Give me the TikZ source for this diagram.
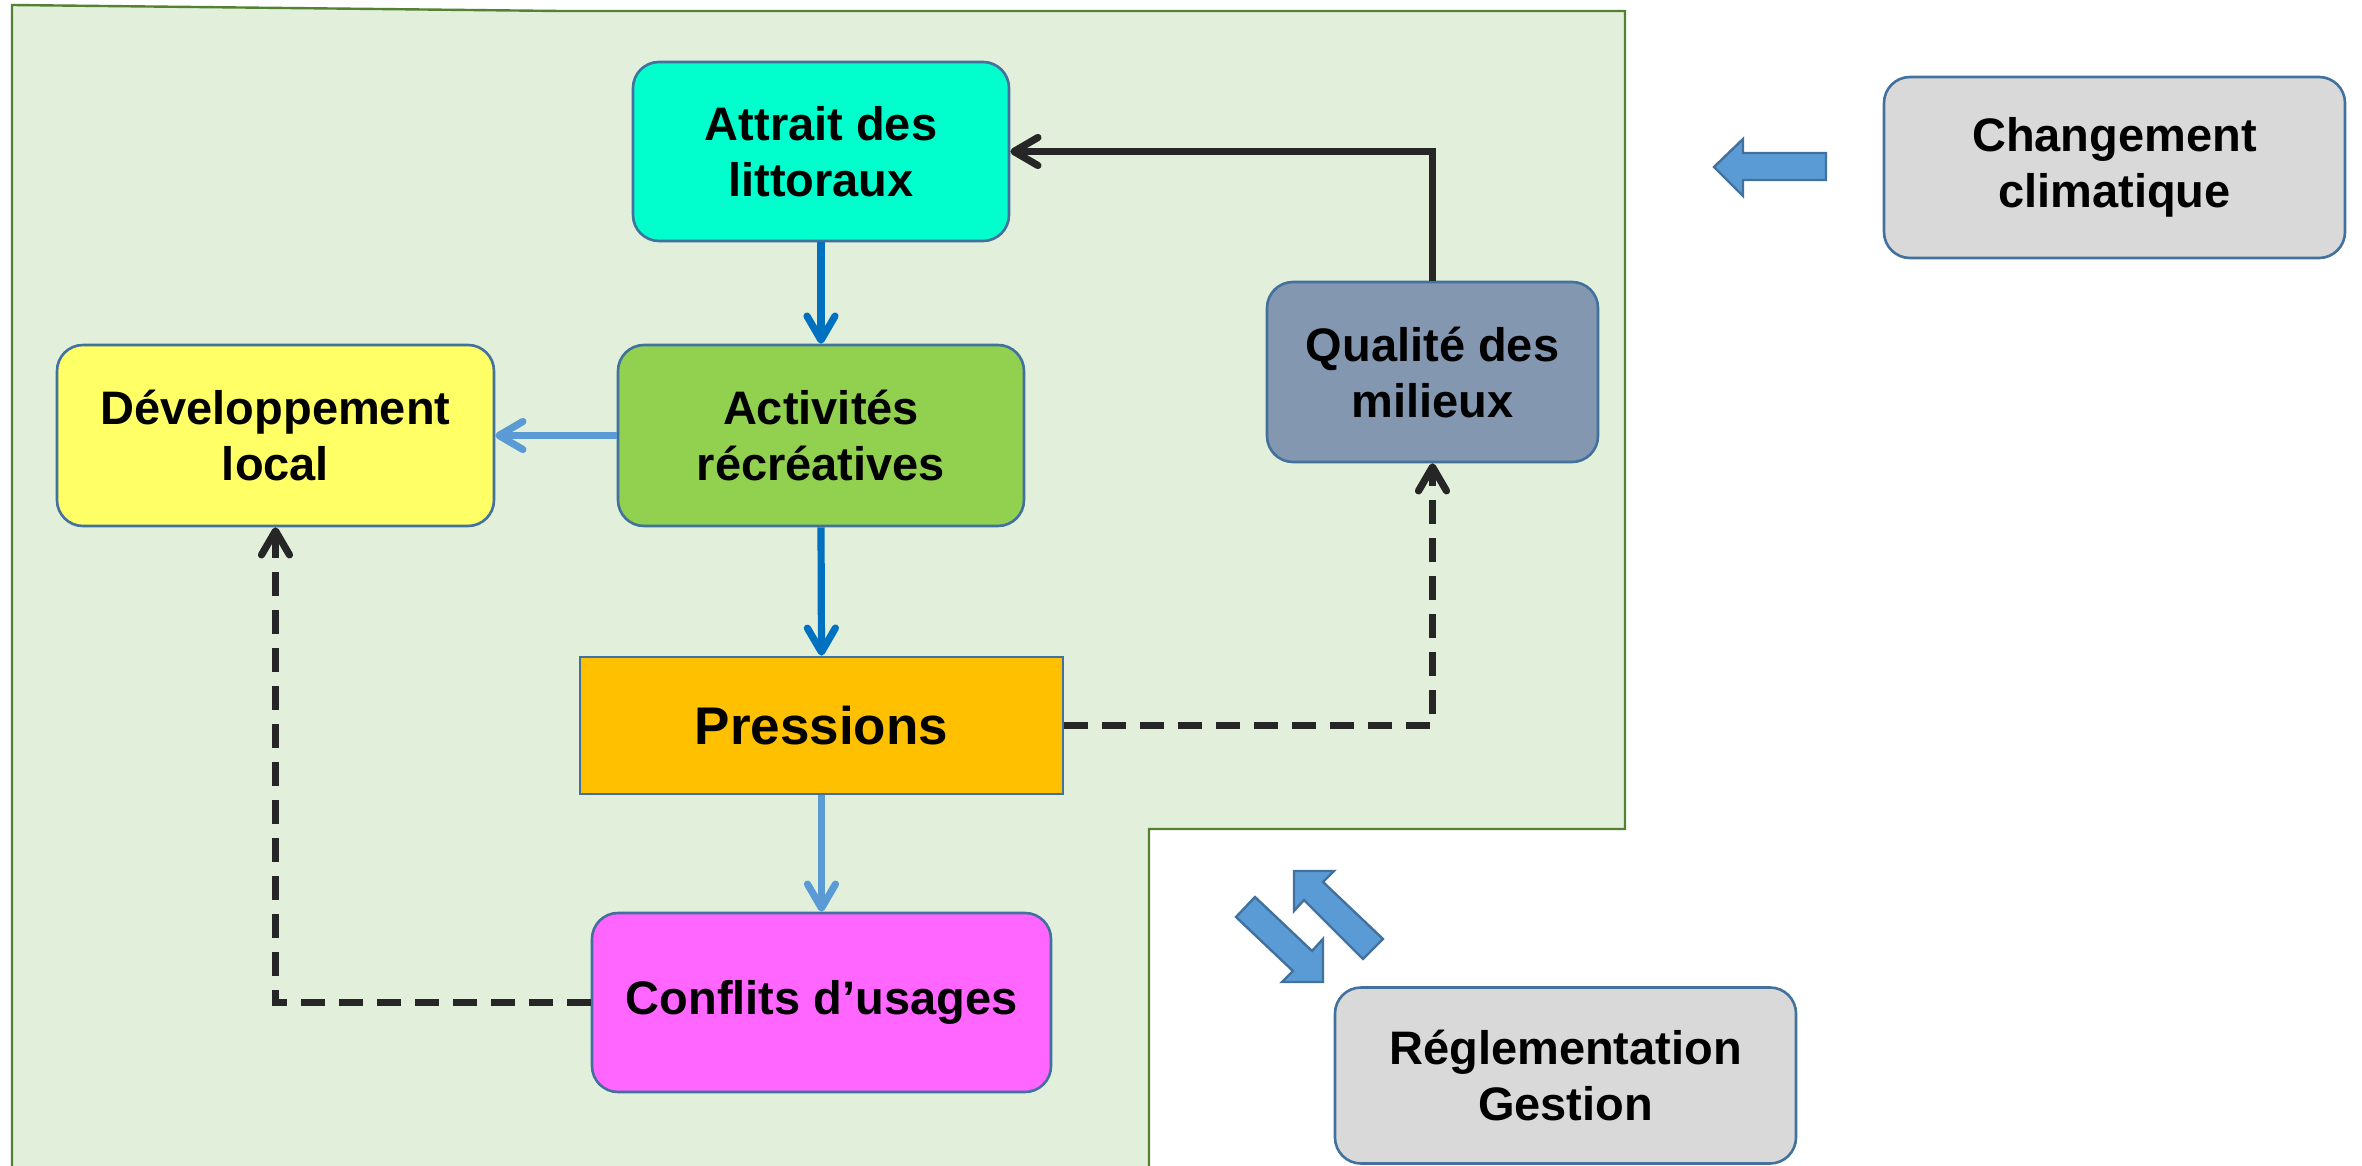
\documentclass[tikz,border=0pt]{standalone}
\usepackage{fontspec}
\setmainfont{Liberation Sans}
\usetikzlibrary{arrows.meta}
\definecolor{zoneFill}{HTML}{E2EFDA}
\definecolor{zoneLine}{HTML}{548235}
\definecolor{boxLine}{HTML}{41719C}
\definecolor{cAttrait}{HTML}{00FFCC}
\definecolor{cActiv}{HTML}{92D050}
\definecolor{cDev}{HTML}{FFFF66}
\definecolor{cQual}{HTML}{8497B0}
\definecolor{cPress}{HTML}{FFC000}
\definecolor{cConf}{HTML}{FF66FF}
\definecolor{cGris}{HTML}{D9D9D9}
\definecolor{darkBlue}{HTML}{0070C0}
\definecolor{lightBlue}{HTML}{5B9BD5}
\definecolor{darkLine}{HTML}{262626}
\tikzset{
  box/.style={draw=boxLine, line width=1.3pt, rounded corners=13pt, align=center,
    font=\bfseries\fontsize{23.5}{28}\selectfont, text=black, inner sep=0pt},
  flow/.style={line width=3.6pt, -{Straight Barb[round,length=12pt,width=14pt]}},
  dashflow/.style={flow, draw=darkLine, dash pattern=on 12pt off 7pt},
  blockarrow/.style={fill=lightBlue, draw=boxLine, line width=1.2pt, line join=miter}
}
\begin{document}
\begin{tikzpicture}[x=0.5pt,y=-0.5pt]
\useasboundingbox (0,0) rectangle (2362,1166);
% green zone
\draw[fill=zoneFill, draw=zoneLine, line width=1.2pt]
  (12,5) -- (560,11) -- (1625,11) -- (1625,829) -- (1149,829) -- (1149,1170) -- (12,1170) -- cycle;
% nodes
\node[box, fill=cAttrait, minimum width=188pt, minimum height=89.5pt] (att) at (821,151.5) {Attrait des\\littoraux};
\node[box, fill=cActiv, minimum width=203pt, minimum height=90.5pt] (act) at (821,435.5) {Activités\\récréatives};
\node[box, fill=cDev, minimum width=218.5pt, minimum height=90.5pt] (dev) at (275.5,435.5) {Développement\\local};
\node[box, fill=cQual, minimum width=165.5pt, minimum height=90pt] (qual) at (1432.5,372) {Qualité des\\milieux};
\node[box, fill=cPress, rounded corners=0pt, minimum width=241.5pt, minimum height=68.5pt,
  font=\bfseries\fontsize{26.5}{30}\selectfont] (press) at (821.5,725.5) {Pressions};
\node[box, fill=cConf, minimum width=229.5pt, minimum height=89.5pt] (conf) at (821.5,1002.5) {Conflits d’usages};
\node[box, fill=cGris, minimum width=230.5pt, minimum height=90.5pt] (clim) at (2114.5,167.5) {Changement\\climatique};
\node[box, fill=cGris, minimum width=230.5pt, minimum height=88pt] (regl) at (1565.5,1075.5) {Réglementation\\Gestion};
% connectors
\draw[flow, draw=darkBlue] (att.south) -- (act.north);
\draw[flow, draw=darkBlue] (act.south) -- (press.north);
\draw[flow, draw=lightBlue] (act.west) -- (dev.east);
\draw[flow, draw=lightBlue] (press.south) -- (conf.north);
\draw[flow, draw=darkLine] (qual.north) |- (att.east);
\draw[dashflow] (press.east) -| (qual.south);
\draw[dashflow] (conf.west) -| (dev.south);
% block arrows
\draw[blockarrow] (1714,167) -- (1743,139) -- (1743,153) -- (1826,153) -- (1826,180) -- (1743,180) -- (1743,196) -- cycle;
\draw[blockarrow] (1236,917) -- (1255,897) -- (1312,951) -- (1323,939) -- (1323,982) -- (1282,982) -- (1293,971) -- cycle;
\draw[blockarrow] (1294,871) -- (1334,871) -- (1323,882) -- (1383,939) -- (1363,959) -- (1304,900) -- (1294,911) -- cycle;
\end{tikzpicture}
\end{document}
